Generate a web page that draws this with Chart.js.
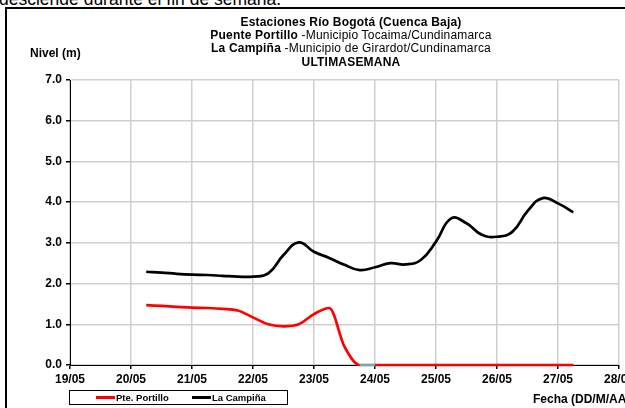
<!DOCTYPE html>
<html>
<head>
<meta charset="utf-8">
<script src="https://cdn.jsdelivr.net/npm/chart.js@4.4.1/dist/chart.umd.min.js"></script>
<style>
  body { margin: 0; width: 625px; height: 408px; overflow: hidden; background: #fff; position: relative;
         font-family: "Liberation Sans", Arial, sans-serif; color: #000; }
  #cortado { position: absolute; left: -1px; top: -9px; font-size: 17.5px; line-height: 17.5px; white-space: nowrap; }
  #marco { position: absolute; left: 5px; top: 7px; width: 660px; height: 430px; border: 2px solid #000; }
  #titulo { position: absolute; left: 101px; width: 500px; top: 15.5px; text-align: center; font-size: 12px;
            line-height: 13.4px; letter-spacing: 0.2px; }
  #nivel { position: absolute; left: 30px; top: 46px; font-size: 12px; font-weight: bold; }
  #fecha { position: absolute; left: 533px; top: 392px; font-size: 12px; font-weight: bold; white-space: nowrap; }
  #leyenda { position: absolute; left: 69px; top: 390px; width: 217px; height: 13px; border: 1px solid #000;
             font-size: 9.5px; font-weight: bold; }
  .item { position: absolute; top: 0; line-height: 13px; white-space: nowrap; }
  .muestra { display: inline-block; width: 19px; height: 3px; vertical-align: middle; margin-right: 1px; position: relative; top: -1px; }
  canvas { position: absolute; left: 0; top: 0; }
</style>
</head>
<body>
<div id="cortado">desciende durante el fin de semana.</div>
<div id="marco"></div>
<canvas id="grafica" width="640" height="408"></canvas>
<div id="titulo">
  <b>Estaciones Río Bogotá (Cuenca Baja)</b><br>
  <b>Puente Portillo</b> -Municipio Tocaima/Cundinamarca<br>
  <b>La Campiña</b> -Municipio de Girardot/Cundinamarca<br>
  <b>ULTIMASEMANA</b>
</div>
<div id="nivel">Nivel (m)</div>
<div id="fecha">Fecha (DD/M/AA)</div>
<div id="leyenda"></div>
<script>
// Fechas (dia de mayo, con fraccion de dia) de cada lectura
const dias = [20.25, 20.5, 20.75, 21, 21.25, 21.5, 21.75, 22, 22.25, 22.5, 22.75, 23, 23.25, 23.5, 23.75,
  24, 24.25, 24.5, 24.75, 25, 25.25, 25.5, 25.75, 26, 26.25, 26.5, 26.75, 27, 27.25];

// Nivel (m) Pte. Portillo
const nivelPortillo = [1.47, 1.45, 1.43, 1.41, 1.40, 1.38, 1.34, 1.17, 1.00, 0.95, 1.00, 1.25, 1.40, 0.45, 0.00,
  0.00, 0.00, 0.00, 0.00, 0.00, 0.00, 0.00, 0.00, 0.00, 0.00, 0.00, 0.00, 0.00, 0.00];

// Nivel (m) La Campiña
const nivelCampina = [2.29, 2.27, 2.24, 2.22, 2.21, 2.19, 2.17, 2.17, 2.25, 2.70, 3.01, 2.78, 2.63, 2.46, 2.33,
  2.40, 2.50, 2.47, 2.58, 3.03, 3.60, 3.48, 3.20, 3.15, 3.27, 3.78, 4.10, 3.97, 3.75];

const fechaTicks = ["19/05", "20/05", "21/05", "22/05", "23/05", "24/05", "25/05", "26/05", "27/05", "28/05"];
const nivelTicks = ["0.0", "1.0", "2.0", "3.0", "4.0", "5.0", "6.0", "7.0"];

const series = [
  { nombre: "Pte. Portillo", color: "#ff0000", valores: nivelPortillo },
  { nombre: "La Campiña", color: "#000000", valores: nivelCampina },
];

// Leyenda
const leyenda = document.getElementById("leyenda");
const posLeyenda = [26, 122];
series.forEach((s, i) => {
  const item = document.createElement("div");
  item.className = "item";
  item.style.left = posLeyenda[i] + "px";
  const muestra = document.createElement("span");
  muestra.className = "muestra";
  muestra.style.background = s.color;
  item.appendChild(muestra);
  item.appendChild(document.createTextNode(s.nombre));
  leyenda.appendChild(item);
});

const fuenteEje = { family: "'Liberation Sans', Arial, sans-serif", size: 12, weight: "bold" };

const datasets = series.map((s, i) => ({
  label: s.nombre,
  data: dias.map((d, j) => ({ x: d, y: s.valores[j] })),
  borderColor: s.color,
  borderWidth: 2.7,
  pointRadius: 0,
  fill: false,
  clip: 4,
  tension: i === 0 ? 0.4 : 0.45,
  cubicInterpolationMode: i === 0 ? "monotone" : "default",
  // tramo sin dato de Portillo se ve de otro color
  segment: i === 0 ? {
    borderColor: ctx => (ctx.p0.parsed.x >= 23.75 && ctx.p1.parsed.x <= 24.0) ? "#7aa6a6" : undefined,
  } : undefined,
}));

new Chart(document.getElementById("grafica"), {
  type: "line",
  data: { datasets: datasets },
  options: {
    responsive: false,
    animation: false,
    layout: { padding: { left: 0, top: 80, right: 21, bottom: 0 } },
    plugins: { legend: { display: false }, tooltip: { enabled: false } },
    scales: {
      x: {
        type: "linear",
        min: 19,
        max: 28,
        afterFit: scale => { scale.height = 43; },
        ticks: {
          stepSize: 1,
          autoSkip: false,
          maxRotation: 0,
          color: "#000",
          font: fuenteEje,
          padding: 3,
          callback: (v, i) => fechaTicks[i],
        },
        grid: { color: "#cfcfcf", lineWidth: 1.5, tickColor: "#000", tickLength: 4 },
        border: { color: "#000", width: 1 },
      },
      y: {
        min: 0,
        max: 7,
        afterFit: scale => { scale.width = 70; },
        ticks: {
          stepSize: 1,
          color: "#000",
          font: fuenteEje,
          padding: 4,
          callback: (v, i) => nivelTicks[i],
        },
        grid: { color: "#cfcfcf", lineWidth: 1.5, tickColor: "#000", tickLength: 4 },
        border: { color: "#000", width: 1 },
      },
    },
  },
});
</script>
</body>
</html>
